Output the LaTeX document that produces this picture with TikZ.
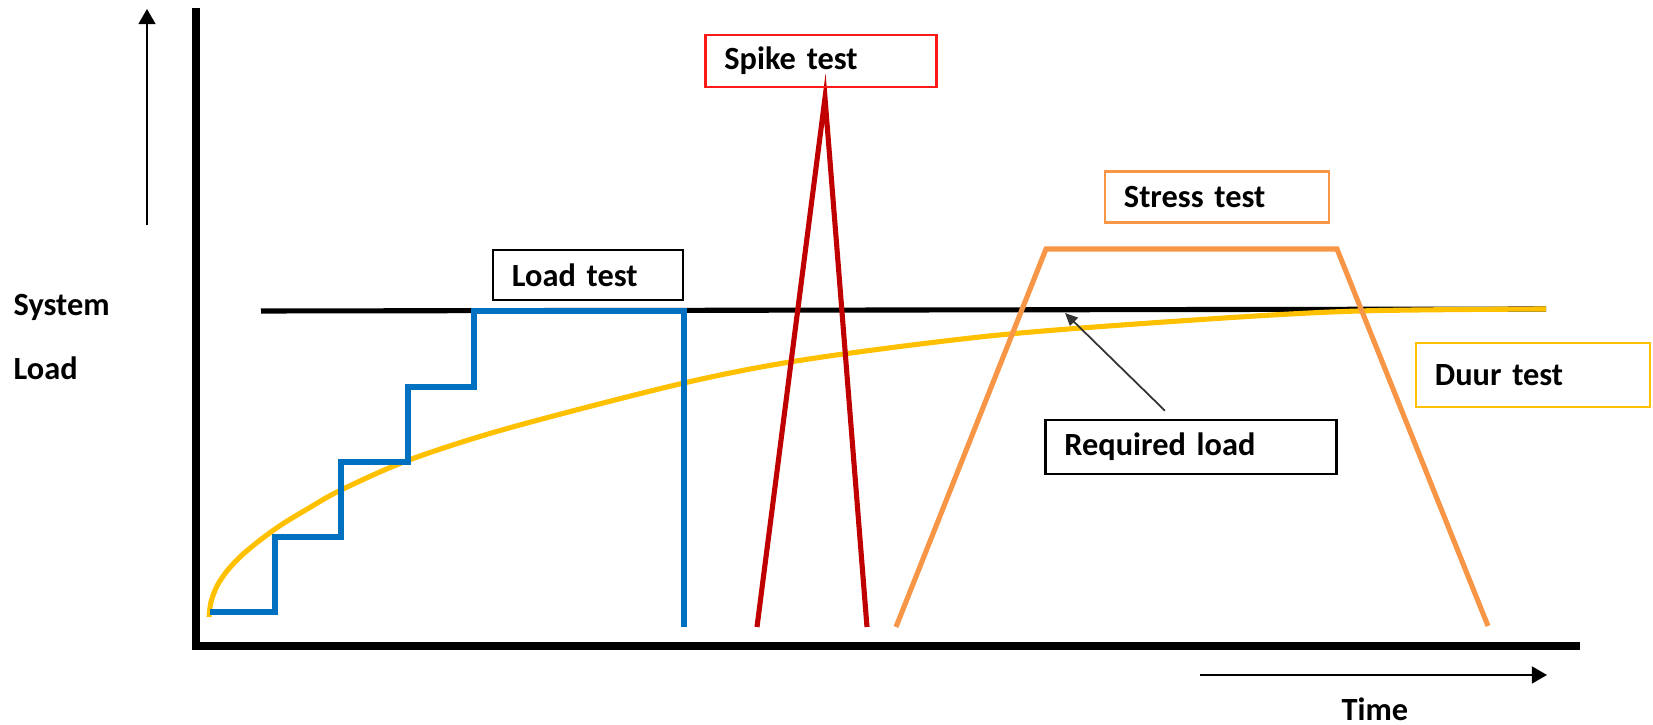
\documentclass[tikz,border=0pt]{standalone}
\usepackage{fontspec}
\setmainfont{Carlito}[WordSpace=0.45]
\usetikzlibrary{arrows.meta}

\definecolor{loadblue}{HTML}{0070C0}
\definecolor{spikered}{HTML}{C00000}
\definecolor{boxred}{HTML}{FF1A1A}
\definecolor{stressorange}{HTML}{F79646}
\definecolor{duuryellow}{HTML}{FFC000}

\tikzstyle{axis} = [draw, line width=2.3pt, line join=miter, -]
\tikzstyle{pointer} = [draw, line width=0.6pt, -{Triangle[length=4.3pt,width=4.8pt]}]
\tikzstyle{small pointer} = [draw, line width=0.5pt, black!80, -{Triangle[length=3.6pt,width=3.2pt]}]
\tikzstyle{curve} = [draw, line width=1.45pt, line join=miter]
\tikzstyle{test box} = [draw, line width=0.7pt, align=left, inner xsep=0.19cm, inner ysep=0pt, font=\fontsize{9.2}{11}\selectfont\bfseries]
\tikzstyle{axis label} = [anchor=base west, inner sep=0pt, font=\fontsize{9.2}{11}\selectfont\bfseries]

\begin{document}
\begin{tikzpicture}[x=0.01cm, y=-0.01cm]
	\useasboundingbox (0,0) rectangle (1653,725);
	% axes and direction arrows
	\path[axis] (196,8) -- (196,646) -- (1580,646);
	\path[pointer] (147,225) -- (147,9);
	\path[pointer] (1200,675) -- (1547,675);
	\node[axis label] (system) at (13,316) {System};
	\node[axis label] (load) at (13,380) {Load};
	\node[axis label, anchor=base] (time) at (1375,721) {Time};

	% required load level
	\path[draw, line width=1.45pt] (261,311) -- (1546,309);
	\coordinate (req tip) at (1065,313);

	% duur test
	\path[curve, duuryellow] plot[smooth] coordinates {(209,617) (211,602) (217,586) (227,571) (241,556) (259,541) (281,525) (309,508) (341,490) (409,460) (509,428) (684,383) (809,359) (999,335) (1209,319) (1359,311) (1546,309)};

	% load test
	\path[curve, loadblue] (210,612) -| (275,537) -| (341,462) -| (408,387) -| (474,311) -| (684,627);

	% spike test
	\path[curve, spikered] (757,627) -- (825,98) -- (867,627);

	% stress test
	\path[curve, stressorange] (896,627) -- (1046,249) -- (1337,249) -- (1488,626);

	% labels
	\node[test box, draw=black, text width=1.52cm, minimum height=0.5cm] (loadtest) at (588,275) {Load test};
	\node[test box, draw=boxred, text width=1.93cm, minimum height=0.52cm] (spiketest) at (821,61) {Spike test};
	\node[test box, draw=stressorange, text width=1.86cm, minimum height=0.51cm] (stresstest) at (1217,197) {Stress test};
	\node[test box, draw=duuryellow, text width=1.96cm, minimum height=0.64cm] (duurtest) at (1533,375) {Duur test};
	\node[test box, draw=black, text width=2.53cm, minimum height=0.54cm] (reqload) at (1191,447) {Required load};

	\path[small pointer] ([xshift=-0.26cm, yshift=0.08cm]reqload.north) -- (req tip);
\end{tikzpicture}
\end{document}
